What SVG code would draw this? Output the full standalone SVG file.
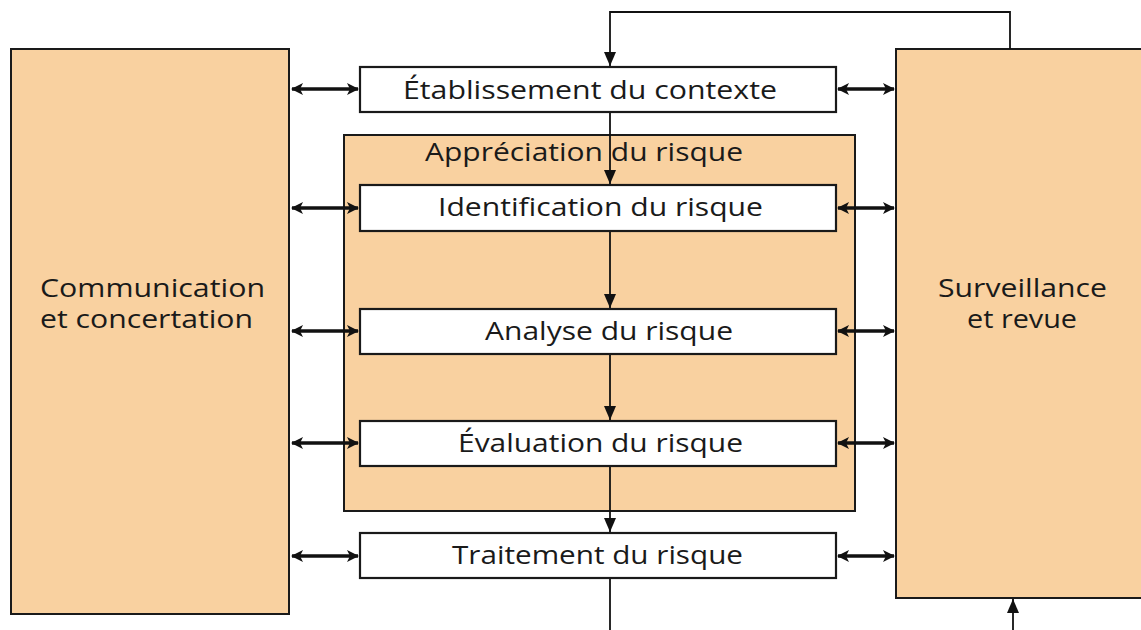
<svg xmlns="http://www.w3.org/2000/svg" width="1141" height="630" viewBox="0 0 1141 630">
  <style>
    .panel { fill: #F9D1A0; stroke: #1a1a1a; stroke-width: 2; }
    .step { fill: #ffffff; stroke: #1a1a1a; stroke-width: 2.2; }
    .label { font-family: "Open Sans", "Noto Sans", sans-serif; font-size: 25.5px; fill: #1a1a1a; }
    .flow { fill: none; stroke: #111; stroke-width: 1.8; }
    .link { fill: none; stroke: #111; stroke-width: 3.6; }
  </style>
  <defs>
    <marker id="down" viewBox="0 0 14 12" refX="14" refY="6" markerWidth="14" markerHeight="12" markerUnits="userSpaceOnUse" orient="auto">
      <path d="M0,0 L14,6 L0,12 Z" fill="#111"/>
    </marker>
    <marker id="tip" viewBox="0 0 12 12" refX="11" refY="6" markerWidth="12" markerHeight="12" markerUnits="userSpaceOnUse" orient="auto-start-reverse">
      <path d="M0,0 L12,6 L0,12 L3,6 Z" fill="#111"/>
    </marker>
  </defs>

  <g id="communication">
    <rect class="panel" x="11" y="49" width="278" height="565"/>
    <text class="label" x="40" y="297" textLength="225" lengthAdjust="spacingAndGlyphs">Communication</text>
    <text class="label" x="40" y="328" textLength="213" lengthAdjust="spacingAndGlyphs">et concertation</text>
  </g>

  <g id="surveillance">
    <rect class="panel" x="896" y="49" width="260" height="549"/>
    <text class="label" x="938" y="297" textLength="169" lengthAdjust="spacingAndGlyphs">Surveillance</text>
    <text class="label" x="967" y="328" textLength="110" lengthAdjust="spacingAndGlyphs">et revue</text>
  </g>

  <g id="appreciation">
    <rect class="panel" x="344" y="135" width="511" height="376"/>
    <text class="label" x="425" y="161" textLength="318" lengthAdjust="spacingAndGlyphs">Appréciation du risque</text>
  </g>

  <g id="etablissement">
    <rect class="step" x="360" y="67" width="476" height="45"/>
    <text class="label" x="403" y="99" textLength="374" lengthAdjust="spacingAndGlyphs">Établissement du contexte</text>
  </g>

  <g id="identification">
    <rect class="step" x="360" y="185" width="476" height="46"/>
    <text class="label" x="438" y="216" textLength="325" lengthAdjust="spacingAndGlyphs">Identification du risque</text>
  </g>

  <g id="analyse">
    <rect class="step" x="360" y="309" width="476" height="45"/>
    <text class="label" x="485" y="340" textLength="248" lengthAdjust="spacingAndGlyphs">Analyse du risque</text>
  </g>

  <g id="evaluation">
    <rect class="step" x="360" y="421" width="476" height="45"/>
    <text class="label" x="458" y="452" textLength="285" lengthAdjust="spacingAndGlyphs">Évaluation du risque</text>
  </g>

  <g id="traitement">
    <rect class="step" x="360" y="533" width="476" height="45"/>
    <text class="label" x="452" y="564" textLength="291" lengthAdjust="spacingAndGlyphs">Traitement du risque</text>
  </g>

  <g id="connectors">
    <!-- feedback loop from monitoring back to context -->
    <path class="flow" d="M1010,49 V12 H610 V66" marker-end="url(#down)"/>
    <!-- main process chain -->
    <path class="flow" d="M610,113 V184" marker-end="url(#down)"/>
    <path class="flow" d="M610,232 V308" marker-end="url(#down)"/>
    <path class="flow" d="M610,355 V420" marker-end="url(#down)"/>
    <path class="flow" d="M610,467 V532" marker-end="url(#down)"/>
    <path class="flow" d="M610,579 V630"/>
    <path class="flow" d="M1013,630 V599" marker-end="url(#down)"/>

    <!-- two-way links with communication -->
    <path class="link" d="M292,89 H358" marker-start="url(#tip)" marker-end="url(#tip)"/>
    <path class="link" d="M292,208 H358" marker-start="url(#tip)" marker-end="url(#tip)"/>
    <path class="link" d="M292,331 H358" marker-start="url(#tip)" marker-end="url(#tip)"/>
    <path class="link" d="M292,443 H358" marker-start="url(#tip)" marker-end="url(#tip)"/>
    <path class="link" d="M292,556 H358" marker-start="url(#tip)" marker-end="url(#tip)"/>

    <!-- two-way links with monitoring -->
    <path class="link" d="M838,89 H894" marker-start="url(#tip)" marker-end="url(#tip)"/>
    <path class="link" d="M838,208 H894" marker-start="url(#tip)" marker-end="url(#tip)"/>
    <path class="link" d="M838,331 H894" marker-start="url(#tip)" marker-end="url(#tip)"/>
    <path class="link" d="M838,443 H894" marker-start="url(#tip)" marker-end="url(#tip)"/>
    <path class="link" d="M838,556 H894" marker-start="url(#tip)" marker-end="url(#tip)"/>
  </g>
</svg>
